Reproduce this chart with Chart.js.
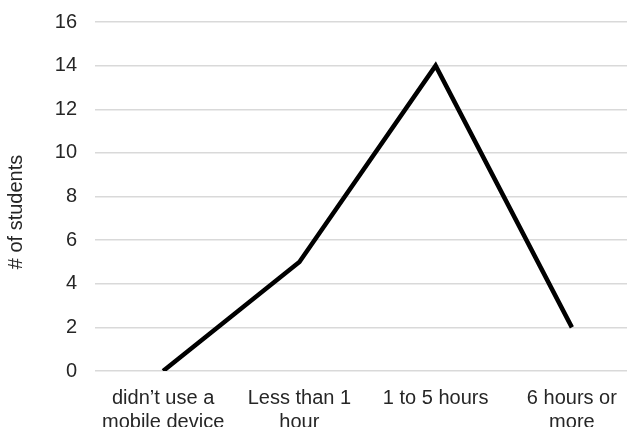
<!DOCTYPE html>
<html>
<head>
<meta charset="utf-8">
<script src="https://cdn.jsdelivr.net/npm/chart.js@4/dist/chart.umd.min.js"></script>
<style>
  html, body { margin: 0; padding: 0; background: #fff; overflow: hidden; }
  #wrap { position: relative; width: 640px; height: 448px; margin-top: -8px; }
</style>
</head>
<body>
<div id="wrap"><canvas id="chart"></canvas></div>
<script>
// Screen time categories and number of students in each
const categories = [
  ["didn\u2019t use a", "mobile device"],
  ["Less than 1", "hour"],
  ["1 to 5 hours"],
  ["6 hours or", "more"]
];
const students = [0, 5, 14, 2];
const yTicks = [0, 2, 4, 6, 8, 10, 12, 14, 16];
const yAxisTitle = '# of students';

const family = "'Liberation Sans', Arial, sans-serif";
const textColor = '#262626';

// Vertical axis title, centred on the visible page height
const axisTitle = {
  id: 'axisTitle',
  afterDraw(chart) {
    const ctx = chart.ctx;
    ctx.save();
    ctx.translate(16, 220);
    ctx.rotate(-Math.PI / 2);
    ctx.font = '20px ' + family;
    ctx.fillStyle = textColor;
    ctx.textAlign = 'center';
    ctx.textBaseline = 'middle';
    ctx.fillText(yAxisTitle, 0, 0);
    ctx.restore();
  }
};

new Chart(document.getElementById('chart'), {
  type: 'line',
  data: {
    labels: categories,
    datasets: [{
      data: students,
      borderColor: '#000',
      borderWidth: 4.5,
      pointRadius: 0,
      tension: 0,
      fill: false
    }]
  },
  plugins: [axisTitle],
  options: {
    responsive: true,
    maintainAspectRatio: false,
    animation: false,
    layout: { padding: { top: 0, left: 0, right: 0, bottom: 0 } },
    plugins: { legend: { display: false }, tooltip: { enabled: false } },
    scales: {
      x: {
        offset: true,
        grid: { display: false, drawTicks: false },
        border: { display: false },
        ticks: {
          color: textColor,
          font: { family, size: 20, lineHeight: 1.2 },
          padding: 15,
          maxRotation: 0,
          autoSkip: false
        },
        afterFit: s => { s.height = 69; }
      },
      y: {
        min: 0,
        max: 16,
        afterBuildTicks: s => { s.ticks = yTicks.map(v => ({ value: v })); },
        grid: { color: '#d9d9d9', lineWidth: 1.5, drawTicks: false },
        border: { display: false },
        ticks: { color: textColor, font: { family, size: 20 }, padding: 18 },
        afterFit: s => { s.width = 95; }
      }
    }
  }
});
</script>
</body>
</html>
